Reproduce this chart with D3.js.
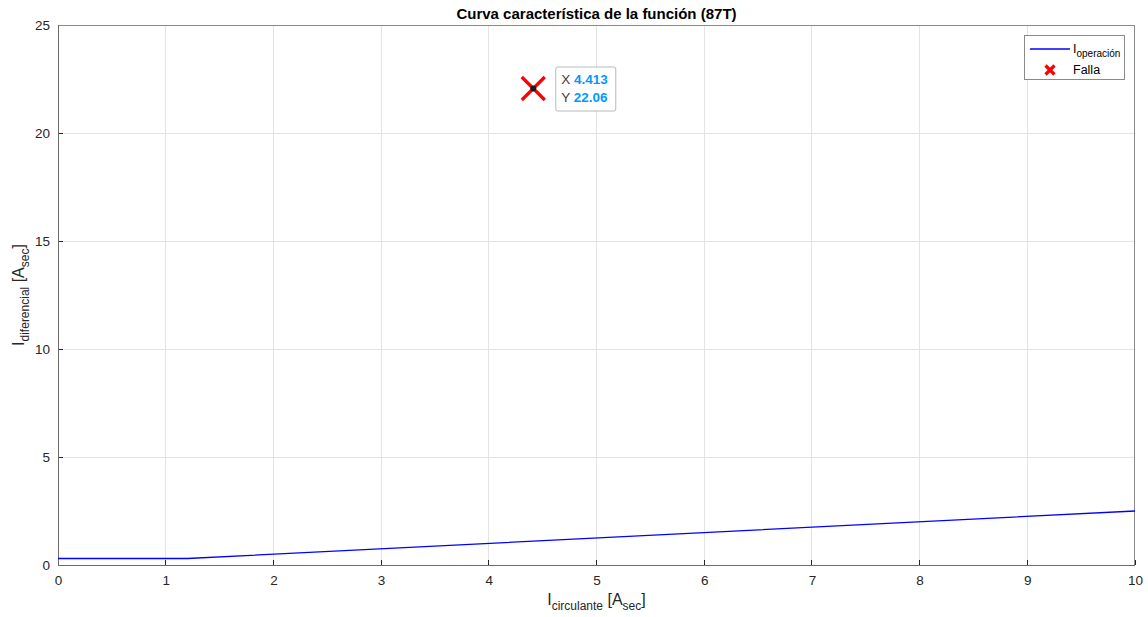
<!DOCTYPE html>
<html>
<head>
<meta charset="utf-8">
<script src="https://cdn.jsdelivr.net/npm/d3@7"></script>
<style>
  html, body { margin: 0; padding: 0; background: #fff; }
  svg { display: block; font-family: "Liberation Sans", Arial, Helvetica, sans-serif; }
</style>
</head>
<body>
<svg id="chart" width="1148" height="617"></svg>
<script>
// Operating characteristic of the differential function (87T)
const iCirc = [0, 1.2, 10];          // restraint current [A sec]
const iDiff = [0.3, 0.3, 2.5];       // operating current [A sec]
const faultX = [4.413];
const faultY = [22.06];
const xTicks = [0, 1, 2, 3, 4, 5, 6, 7, 8, 9, 10];
const yTicks = [0, 5, 10, 15, 20, 25];

const svg = d3.select("#chart");
const m = { left: 58, right: 1135, top: 25, bottom: 565 };

const x = d3.scaleLinear().domain([0, 10]).range([m.left, m.right]);
const y = d3.scaleLinear().domain([0, 25]).range([m.bottom, m.top]);

const axisColor = "#262626";
const gridColor = "#e3e3e3";

// plot background
svg.append("rect")
  .attr("x", m.left).attr("y", m.top)
  .attr("width", m.right - m.left).attr("height", m.bottom - m.top)
  .attr("fill", "#fff");

// grid
const grid = svg.append("g");
grid.selectAll("line.gx").data(xTicks.slice(1, -1)).join("line")
  .attr("x1", d => x(d)).attr("x2", d => x(d))
  .attr("y1", m.top).attr("y2", m.bottom)
  .attr("stroke", gridColor).attr("stroke-width", 1).attr("shape-rendering", "crispEdges");
grid.selectAll("line.gy").data(yTicks.slice(1, -1)).join("line")
  .attr("y1", d => y(d)).attr("y2", d => y(d))
  .attr("x1", m.left).attr("x2", m.right)
  .attr("stroke", gridColor).attr("stroke-width", 1).attr("shape-rendering", "crispEdges");

// axes
const xAxis = d3.axisBottom(x).tickValues(xTicks).tickSize(0).tickPadding(8).tickFormat(d3.format("d"));
const yAxis = d3.axisLeft(y).tickValues(yTicks).tickSize(0).tickPadding(8).tickFormat(d3.format("d"));

const gx = svg.append("g").attr("transform", `translate(0,${m.bottom})`).call(xAxis);
const gy = svg.append("g").attr("transform", `translate(${m.left},0)`).call(yAxis);
[gx, gy].forEach(g => {
  g.select(".domain").remove();
  g.selectAll("text").attr("fill", axisColor).style("font-size", "13.5px")
    .style("font-family", "Liberation Sans, Arial, sans-serif");
});
gx.selectAll("text").attr("dy", "0.9em");

// inner ticks (pointing inwards)
const tk = 5;
svg.append("g").selectAll("line").data(xTicks).join("line")
  .attr("x1", d => x(d)).attr("x2", d => x(d))
  .attr("y1", m.bottom).attr("y2", m.bottom - tk)
  .attr("stroke", axisColor).attr("shape-rendering", "crispEdges");
svg.append("g").selectAll("line").data(yTicks).join("line")
  .attr("y1", d => y(d)).attr("y2", d => y(d))
  .attr("x1", m.left).attr("x2", m.left + tk)
  .attr("stroke", axisColor).attr("shape-rendering", "crispEdges");

// box
svg.append("rect")
  .attr("x", m.left + 0.5).attr("y", m.top + 0.5)
  .attr("width", m.right - m.left - 1).attr("height", m.bottom - m.top)
  .attr("fill", "none").attr("stroke", "#8a8a8a").attr("stroke-width", 1)
  .attr("shape-rendering", "crispEdges");
svg.append("line")
  .attr("x1", m.left).attr("x2", m.right).attr("y1", m.bottom + 0.5).attr("y2", m.bottom + 0.5)
  .attr("stroke", "#6b6b6b");
svg.append("line")
  .attr("x1", m.left + 0.5).attr("x2", m.left + 0.5).attr("y1", m.top).attr("y2", m.bottom)
  .attr("stroke", "#6b6b6b");

// operating characteristic
const pts = iCirc.map((v, i) => [v, iDiff[i]]);
svg.append("path")
  .datum(pts)
  .attr("d", d3.line().x(d => x(d[0])).y(d => y(d[1])))
  .attr("fill", "none").attr("stroke", "#0000ff").attr("stroke-width", 1.3);

// fault marker
function cross(g, cx, cy, r, w) {
  g.append("path")
    .attr("d", `M${cx - r},${cy - r}L${cx + r},${cy + r}M${cx - r},${cy + r}L${cx + r},${cy - r}`)
    .attr("stroke", "#ff0000").attr("stroke-width", w).attr("fill", "none");
}
const fx = x(faultX[0]), fy = y(faultY[0]);
cross(svg, fx, fy, 11.5, 3.2);
svg.append("circle").attr("cx", fx).attr("cy", fy).attr("r", 3).attr("fill", "#1a1a1a");

// data tip
const tip = svg.append("g").attr("transform", `translate(${fx + 22},${fy - 22})`);
tip.append("rect").attr("x", 0.5).attr("y", 0.5).attr("width", 60).attr("height", 44).attr("rx", 2)
  .attr("fill", "#fff").attr("stroke", "#b8b8b8");
const tipRows = [["X", d3.format(".3f")(faultX[0])], ["Y", d3.format(".2f")(faultY[0])]];
tipRows.forEach((r, i) => {
  const t = tip.append("text").attr("x", 6).attr("y", 17 + i * 18).style("font-size", "13.5px");
  t.append("tspan").attr("fill", "#404040").text(r[0] + " ");
  t.append("tspan").attr("fill", "#0099ff").attr("font-weight", "bold").text(r[1]);
});

// title
svg.append("text").attr("x", (m.left + m.right) / 2).attr("y", 19)
  .attr("text-anchor", "middle").attr("font-weight", "bold").style("font-size", "15px")
  .attr("fill", "#000").text("Curva característica de la función (87T)");

// x label
const xl = svg.append("text").attr("x", (m.left + m.right) / 2).attr("y", 605)
  .attr("text-anchor", "middle").style("font-size", "16px").attr("fill", axisColor);
xl.append("tspan").text("I");
xl.append("tspan").attr("dy", 5).style("font-size", "12px").text("circulante");
xl.append("tspan").attr("dy", -5).text(" [A");
xl.append("tspan").attr("dy", 5).style("font-size", "12px").text("sec");
xl.append("tspan").attr("dy", -5).text("]");

// y label
const yl = svg.append("text")
  .attr("transform", `translate(24,${(m.top + m.bottom) / 2}) rotate(-90)`)
  .attr("text-anchor", "middle").style("font-size", "16px").attr("fill", axisColor);
yl.append("tspan").text("I");
yl.append("tspan").attr("dy", 5).style("font-size", "12px").text("diferencial");
yl.append("tspan").attr("dy", -5).text(" [A");
yl.append("tspan").attr("dy", 5).style("font-size", "12px").text("sec");
yl.append("tspan").attr("dy", -5).text("]");

// legend
const lg = svg.append("g");
lg.append("rect").attr("x", 1024.5).attr("y", 35.5).attr("width", 100).attr("height", 44)
  .attr("fill", "#fff").attr("stroke", "#8a8a8a").attr("shape-rendering", "crispEdges");
lg.append("line").attr("x1", 1030).attr("x2", 1070).attr("y1", 49).attr("y2", 49)
  .attr("stroke", "#0000ff").attr("stroke-width", 1.5);
const lt = lg.append("text").attr("x", 1073).attr("y", 53).style("font-size", "12.5px").attr("fill", "#000");
lt.append("tspan").text("I");
lt.append("tspan").attr("dy", 4).style("font-size", "10px").text("operación");
cross(lg, 1050, 70, 4.5, 3.2);
lg.append("text").attr("x", 1073).attr("y", 74).style("font-size", "12.5px").attr("fill", "#000").text("Falla");
</script>
</body>
</html>
